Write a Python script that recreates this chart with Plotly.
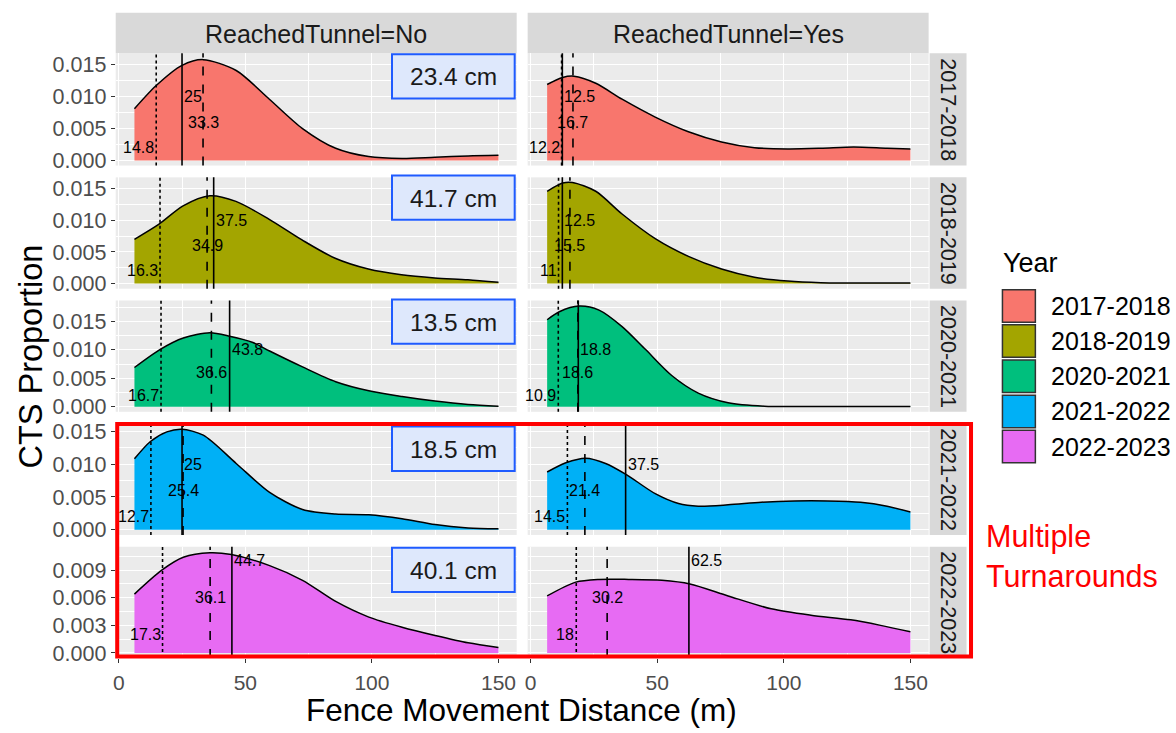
import plotly.graph_objects as go

W, H = 1176, 733

# ---------------- data ----------------
years = ["2017-2018", "2018-2019", "2020-2021", "2021-2022", "2022-2023"]
tunnel = ["No", "Yes"]
fill_colors = ["#F8766D", "#A3A500", "#00BF7D", "#00B0F6", "#E76BF3"]

# density curves (x = metres, y = CTS proportion)
no_2017_x = [6.2, 14.7, 25, 33.3, 46.4, 59.5, 72.6, 85.7, 98.7, 111.9, 124.9, 138, 150]
no_2017_y = [0.0081, 0.0117, 0.0149, 0.0158, 0.0141, 0.0096, 0.0050, 0.0019, 0.0006, 0.0003, 0.0005, 0.0007, 0.0008]
yes_2017_x = [6.5, 12.6, 17.1, 25.7, 36.1, 49.2, 62.3, 75.4, 88.4, 101.6, 114.6, 127.6, 140.8, 150]
yes_2017_y = [0.0119, 0.0130, 0.0132, 0.0121, 0.0096, 0.0068, 0.0045, 0.0029, 0.0020, 0.0018, 0.0019, 0.0021, 0.0019, 0.0018]

no_2018_x = [6.2, 15.9, 25.4, 36, 46.3, 59.3, 72.4, 85.5, 98.6, 111.7, 124.8, 137.9, 150]
no_2018_y = [0.0070, 0.0094, 0.0123, 0.0139, 0.0130, 0.0102, 0.0069, 0.0040, 0.0023, 0.0014, 0.0009, 0.0006, 0.0002]
yes_2018_x = [6.5, 12.6, 16.5, 25.7, 36.1, 49.2, 62.3, 75.4, 88.4, 101.6, 114.6, 130, 150]
yes_2018_y = [0.0146, 0.0159, 0.0160, 0.0146, 0.0110, 0.0071, 0.0043, 0.0023, 0.0010, 0.0004, 0.00015, 0.0001, 0.0001]

no_2020_x = [6.2, 16.4, 25.5, 36, 43.8, 53, 59.6, 72.6, 85.7, 98.8, 111.9, 124.9, 138, 150]
no_2020_y = [0.0069, 0.0101, 0.0121, 0.0130, 0.0124, 0.0113, 0.0098, 0.0070, 0.0044, 0.0028, 0.0018, 0.0010, 0.0004, 0.0001]
yes_2020_x = [6.5, 11.3, 19.1, 27, 36.1, 45.3, 55.7, 66.2, 78, 92.3, 110, 130, 150]
yes_2020_y = [0.0153, 0.0167, 0.0177, 0.0170, 0.0141, 0.0101, 0.0055, 0.0024, 0.0007, 0.0001, 0.00005, 0.00003, 0.00002]

no_2021_x = [6.2, 12.4, 19, 24.9, 33.4, 46.4, 59.6, 72.6, 85.7, 98.8, 111.9, 125, 138, 150]
no_2021_y = [0.0108, 0.0134, 0.0149, 0.0153, 0.0144, 0.0101, 0.0057, 0.0031, 0.0024, 0.0023, 0.0017, 0.0008, 0.0003, 0.00015]
yes_2021_x = [6.5, 13.9, 21.7, 29.6, 37.8, 49.2, 58.4, 66.2, 78, 91.1, 104.2, 117.3, 130.3, 140.8, 150]
yes_2021_y = [0.0088, 0.0102, 0.0109, 0.0101, 0.0084, 0.0055, 0.0040, 0.0036, 0.0038, 0.0042, 0.0044, 0.0044, 0.0042, 0.0036, 0.0027]

no_2022_x = [6.2, 17, 25.5, 36, 44.5, 59.6, 72.6, 85.7, 98.8, 111.9, 125, 138, 150]
no_2022_y = [0.0064, 0.0090, 0.0104, 0.0109, 0.0107, 0.0095, 0.0079, 0.0056, 0.0039, 0.0028, 0.0019, 0.0011, 0.0006]
yes_2022_x = [6.5, 17.8, 27, 38.7, 51.8, 62.9, 78, 95, 110.7, 126.4, 138.2, 150]
yes_2022_y = [0.0062, 0.0077, 0.0080, 0.0080, 0.0079, 0.0075, 0.0062, 0.0048, 0.0041, 0.0036, 0.0030, 0.0023]

curves = [
    [(no_2017_x, no_2017_y), (yes_2017_x, yes_2017_y)],
    [(no_2018_x, no_2018_y), (yes_2018_x, yes_2018_y)],
    [(no_2020_x, no_2020_y), (yes_2020_x, yes_2020_y)],
    [(no_2021_x, no_2021_y), (yes_2021_x, yes_2021_y)],
    [(no_2022_x, no_2022_y), (yes_2022_x, yes_2022_y)],
]

# reference lines (dotted / solid / dashed) per year, for No and Yes
dotted_no = [14.8, 16.3, 16.7, 12.7, 17.3]
dotted_yes = [12.2, 11, 10.9, 14.5, 18]
solid_no = [25, 37.5, 43.8, 25, 44.7]
solid_yes = [12.5, 12.5, 18.8, 37.5, 62.5]
dashed_no = [33.3, 34.9, 36.6, 25.4, 36.1]
dashed_yes = [16.7, 15.5, 18.6, 21.4, 30.2]
label_y = {"solid": 0.010, "dashed": 0.006, "dotted": 0.002}

box_labels = ["23.4 cm", "41.7 cm", "13.5 cm", "18.5 cm", "40.1 cm"]

y_ranges = [[-0.0008, 0.0168], [-0.0008, 0.0168], [-0.00089, 0.01869],
            [-0.00077, 0.01616], [-0.00055, 0.01155]]
y_dticks = [0.005, 0.005, 0.005, 0.005, 0.003]
x_range = [-1.2, 157.2]
x_ticks = [0, 50, 100, 150]

# ---------------- layout geometry (pixels) ----------------
col_px = [(113, 515), (526, 928)]
row_px = [(50, 164), (176, 289), (301, 414), (426, 539), (551, 664)]


def px(x):
    return x / W


def py(y):
    return 1 - y / H


def note(x, y, text, size, color="#1A1A1A", xanchor="center", angle=0, align="center"):
    return dict(xref="paper", yref="paper", x=px(x), y=py(y), text=text,
                xanchor=xanchor, yanchor="middle", textangle=angle, align=align,
                showarrow=False, font=dict(size=size, color=color))


fig = go.Figure()
layout = dict(width=W, height=H, margin=dict(l=0, r=0, t=0, b=0),
              paper_bgcolor="white", plot_bgcolor="#EBEBEB",
              showlegend=False, font=dict(family="Liberation Sans, Arial", color="#1A1A1A"))
shapes = []
annotations = []

for r in range(5):
    for c in range(2):
        k = r * 2 + c + 1
        xa = "x" if k == 1 else f"x{k}"
        ya = "y" if k == 1 else f"y{k}"
        xkey = "xaxis" if k == 1 else f"xaxis{k}"
        ykey = "yaxis" if k == 1 else f"yaxis{k}"
        bottom = r == 4
        left = c == 0
        layout[xkey] = dict(
            domain=[px(col_px[c][0]), px(col_px[c][1])], anchor=ya,
            range=x_range, tickvals=x_ticks, showticklabels=bottom,
            ticks="outside" if bottom else "", ticklen=4, tickcolor="#333333",
            ticklabelstandoff=2,
            tickfont=dict(size=21, color="#4D4D4D"),
            showgrid=True, gridcolor="white", gridwidth=1.1, zeroline=False,
            minor=dict(dtick=25, tick0=0, showgrid=True, gridcolor="white", gridwidth=0.55),
            showline=False, fixedrange=True)
        layout[ykey] = dict(
            domain=[py(row_px[r][1]), py(row_px[r][0])], anchor=xa,
            range=y_ranges[r], dtick=y_dticks[r], tick0=0, tickformat=".3f",
            showticklabels=left, ticks="outside" if left else "", ticklen=4,
            tickcolor="#333333", tickfont=dict(size=21.5, color="#4D4D4D"),
            showgrid=True, gridcolor="white", gridwidth=1.1, zeroline=False,
            minor=dict(dtick=y_dticks[r] / 2, tick0=0, showgrid=True,
                       gridcolor="white", gridwidth=0.55),
            showline=False, fixedrange=True)

        cx, cy = curves[r][c]
        fig.add_trace(go.Scatter(
            x=cx, y=cy, xaxis=xa, yaxis=ya, mode="lines",
            line=dict(color="black", width=1.5, shape="spline", smoothing=0.8),
            fill="tozeroy", fillcolor=fill_colors[r], hoverinfo="skip"))

        dvals = (dotted_no, dotted_yes)[c]
        svals = (solid_no, solid_yes)[c]
        hvals = (dashed_no, dashed_yes)[c]
        for val, dash, key, anchor in [(dvals[r], "dot", "dotted", "right"),
                                        (svals[r], "solid", "solid", "left"),
                                        (hvals[r], "dash", "dashed", "center")]:
            shapes.append(dict(type="line", xref=xa, yref=f"{ya} domain",
                               x0=val, x1=val, y0=0, y1=1, layer="above",
                               line=dict(color="black", width=1.6, dash=dash)))
            annotations.append(dict(xref=xa, yref=ya, x=val, y=label_y[key],
                                    text=f"{val:g}", showarrow=False,
                                    xanchor=anchor, yanchor="middle",
                                    font=dict(size=16, color="black")))

    # right-hand strip
    shapes.append(dict(type="rect", xref="paper", yref="paper",
                       x0=px(929), x1=px(966), y0=py(row_px[r][1]), y1=py(row_px[r][0]),
                       fillcolor="#D9D9D9", line=dict(width=0), layer="below"))
    annotations.append(note(947.5, (row_px[r][0] + row_px[r][1]) / 2, years[r], 21.5, angle=90))
    # value box on left panel
    top = row_px[r][0] + [1, -2, -1, 3, 1][r]
    shapes.append(dict(type="rect", xref="paper", yref="paper",
                       x0=px(390), x1=px(513), y0=py(top + 45), y1=py(top),
                       fillcolor="#DEE8FC", line=dict(color="#1F5BFF", width=2),
                       layer="above"))
    annotations.append(note(451.5, top + 23, box_labels[r], 24.5))

# top strips
for c in range(2):
    shapes.append(dict(type="rect", xref="paper", yref="paper",
                       x0=px(col_px[c][0]), x1=px(col_px[c][1]), y0=py(50), y1=py(9),
                       fillcolor="#D9D9D9", line=dict(width=0), layer="below"))
    annotations.append(note((col_px[c][0] + col_px[c][1]) / 2, 30,
                            f"ReachedTunnel={tunnel[c]}", 25))

# axis titles
annotations.append(note(520, 717, "Fence Movement Distance (m)", 31.5, color="black"))
annotations.append(note(28, 358, "CTS Proportion", 32.5, color="black", angle=-90))

# legend (drawn manually)
annotations.append(note(1001, 263, "Year", 27, color="black", xanchor="left"))
for i, (lab, col) in enumerate(zip(years, fill_colors)):
    y0 = 290 + i * 35.7
    shapes.append(dict(type="rect", xref="paper", yref="paper",
                       x0=px(1002), x1=px(1035), y0=py(y0 + 33), y1=py(y0),
                       fillcolor=col, line=dict(color="#333333", width=1.5)))
    annotations.append(note(1049, y0 + 16.5, lab, 25, color="black", xanchor="left"))

# red highlight frame and note
shapes.append(dict(type="rect", xref="paper", yref="paper",
                   x0=px(114.5), x1=px(970.5), y0=py(662.5), y1=py(426.5),
                   line=dict(color="#FF0000", width=4), layer="above"))
annotations.append(note(984, 560, "Multiple<br>Turnarounds", 30.5, color="#FF0000",
                        xanchor="left", align="left"))

layout["shapes"] = shapes
layout["annotations"] = annotations
fig.update_layout(**layout)
fig.write_html("out.html")
